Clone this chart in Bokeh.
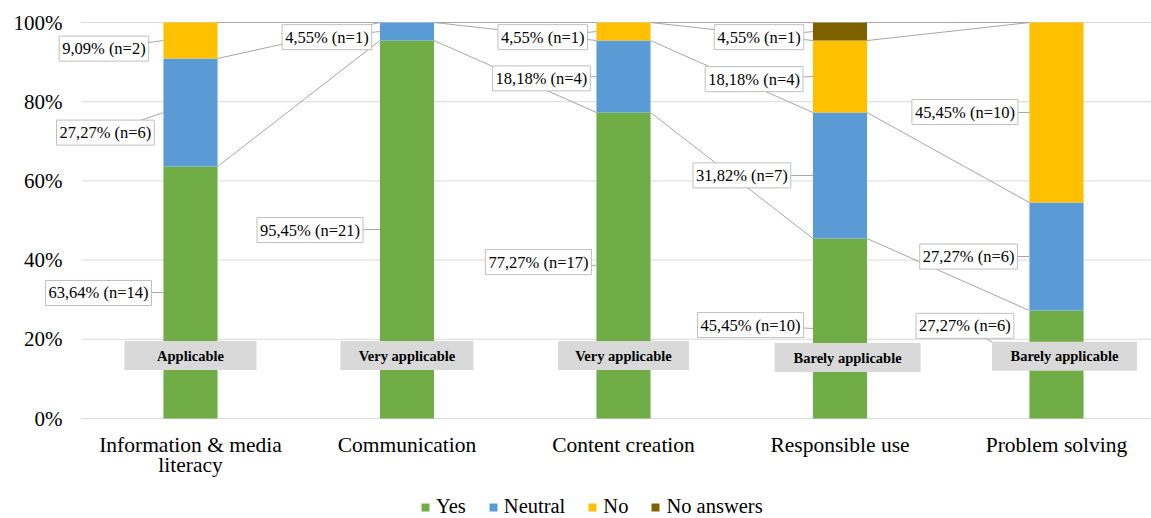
from bokeh.plotting import figure
from bokeh.models import ColumnDataSource, Legend, LegendItem, Range1d
from bokeh.core.properties import value
from bokeh.embed import file_html
from bokeh.resources import INLINE

# ---------------- data ----------------
categories = ["Information & media literacy", "Communication", "Content creation",
              "Responsible use", "Problem solving"]
tick_label_lines = [["Information & media", "literacy"], ["Communication"], ["Content creation"],
                    ["Responsible use"], ["Problem solving"]]
series = ["Yes", "Neutral", "No", "No answers"]
yes_pct = [63.64, 95.45, 77.27, 45.45, 27.27]
neutral_pct = [27.27, 4.55, 18.18, 31.82, 27.27]
no_pct = [9.09, 0.0, 4.55, 18.18, 45.45]
noans_pct = [0.0, 0.0, 0.0, 4.55, 0.0]
yes_n = [14, 21, 17, 10, 6]
neutral_n = [6, 1, 4, 7, 6]
no_n = [2, 0, 1, 4, 10]
noans_n = [0, 0, 0, 1, 0]
verdicts = ["Applicable", "Very applicable", "Very applicable",
            "Barely applicable", "Barely applicable"]
y_ticks = [0, 20, 40, 60, 80, 100]

# ---------------- style / layout ----------------
colors = ["#70AD47", "#5B9BD5", "#FFC000", "#7F6000"]
FONT = "Liberation Serif"
BAR_W = 0.25
X_START, X_END = -0.8776, 4.4388      # whole canvas width in category units
Y_START, Y_END = -25.25, 105.56       # whole canvas height in % units
PLOT_LEFT = -0.503                    # left edge of the gridlines
label_dx = {
    "Yes": [-0.425, -0.448, -0.393, -0.413, -0.423],
    "Neutral": [-0.393, -0.37, -0.379, -0.453, -0.406],
    "No": [-0.40, None, -0.373, -0.397, -0.423],
    "No answers": [None, None, None, -0.374, None],
}
label_y = {
    "Yes": [31.7, 47.6, 39.5, 23.6, 23.4],
    "Neutral": [72.2, 96.3, 85.9, 61.4, 40.9],
    "No": [93.4, None, 96.3, 85.7, 77.4],
    "No answers": [None, None, None, 96.3, None],
}
verdict_dx = [0.0, 0.0, 0.0, 0.035, 0.037]
verdict_y = [15.9, 15.9, 15.9, 15.4, 15.7]
verdict_w = [132, 133, 131, 146, 145]

pcts = {"Yes": yes_pct, "Neutral": neutral_pct, "No": no_pct, "No answers": noans_pct}
counts = {"Yes": yes_n, "Neutral": neutral_n, "No": no_n, "No answers": noans_n}
xs = list(range(len(categories)))

src = ColumnDataSource(dict(x=xs, **{s: pcts[s] for s in series}))

p = figure(width=1151, height=518, x_range=Range1d(X_START, X_END),
           y_range=Range1d(Y_START, Y_END),
           output_backend="svg", toolbar_location=None,
           min_border_left=0, min_border_right=0, min_border_top=0, min_border_bottom=0)
p.outline_line_color = None
p.background_fill_color = "white"
p.border_fill_color = "white"
p.xaxis.visible = False
p.yaxis.visible = False
p.xgrid.grid_line_color = None
p.ygrid.grid_line_color = None

# gridlines and y tick labels
p.segment(x0=[PLOT_LEFT] * len(y_ticks), y0=y_ticks, x1=[X_END] * len(y_ticks), y1=y_ticks,
          line_color="#d9d9d9", line_width=1)
p.text(x=[PLOT_LEFT] * len(y_ticks), y=y_ticks, text=[f"{t}%" for t in y_ticks],
       x_offset=-19, text_font=value(FONT), text_font_size="21px", text_color="black",
       text_align="right", text_baseline="middle")

rs = p.vbar_stack(series, x="x", width=BAR_W, source=src, color=colors, line_color=None)

tops, mids = {}, {}
run = [0.0] * len(xs)
for s in series:
    mids[s] = [run[i] + pcts[s][i] / 2 for i in xs]
    run = [run[i] + pcts[s][i] for i in xs]
    tops[s] = list(run)

# series lines
sx0, sy0, sx1, sy1 = [], [], [], []
for s in series:
    for i in xs[:-1]:
        sx0.append(i + BAR_W / 2); sy0.append(tops[s][i])
        sx1.append(i + 1 - BAR_W / 2); sy1.append(tops[s][i + 1])
p.segment(sx0, sy0, sx1, sy1, line_color="#a6a6a6", line_width=1)

# callout labels
lx, ly, lt, px0, py0, px1, py1 = [], [], [], [], [], [], []
for s in series:
    for i in xs:
        if counts[s][i] == 0:
            continue
        x = i + label_dx[s][i]
        y = label_y[s][i]
        lx.append(x); ly.append(y)
        lt.append(f"{pcts[s][i]:.2f}".replace(".", ",") + f"% (n={counts[s][i]})")
        px0.append(x); py0.append(y); px1.append(i - BAR_W / 2); py1.append(mids[s][i])
p.segment(px0, py0, px1, py1, line_color="#a6a6a6", line_width=1)
p.text(x=lx, y=ly, text=lt, text_font=value(FONT), text_font_size="16.5px",
       text_color="black", text_align="center", text_baseline="middle",
       background_fill_color="white", border_line_color="#bfbfbf", padding=3)

# verdict boxes
vx = [i + verdict_dx[i] for i in xs]
p.rect(x=vx, y=verdict_y, width=verdict_w, height=[29] * len(xs),
       width_units="screen", height_units="screen", fill_color="#d9d9d9", line_color=None)
p.text(x=vx, y=verdict_y, text=verdicts, text_font=value(FONT), text_font_size="14.5px",
       text_font_style="bold", text_color="black", text_align="center", text_baseline="middle")

# category labels (below the 0% line)
cx, cy, ct, co = [], [], [], []
for i, lines in zip(xs, tick_label_lines):
    for k, line in enumerate(lines):
        cx.append(i); cy.append(0); ct.append(line); co.append(26 + 20 * k)
p.text(x=cx, y=cy, text=ct, y_offset=co, text_font=value(FONT), text_font_size="21.5px",
       text_color="black", text_align="center", text_baseline="alphabetic")

legend = Legend(items=[LegendItem(label=s, renderers=[r]) for s, r in zip(series, rs)],
                orientation="horizontal", location=(420, 0))
legend.label_text_font = FONT
legend.label_text_font_size = "20.5px"
legend.label_text_color = "black"
legend.glyph_width = 10
legend.glyph_height = 10
legend.label_standoff = 6
legend.spacing = 22
legend.padding = 0
legend.margin = 0
legend.border_line_color = None
legend.background_fill_alpha = 0
p.add_layout(legend)

open("out.html", "w").write(file_html(p, INLINE))
